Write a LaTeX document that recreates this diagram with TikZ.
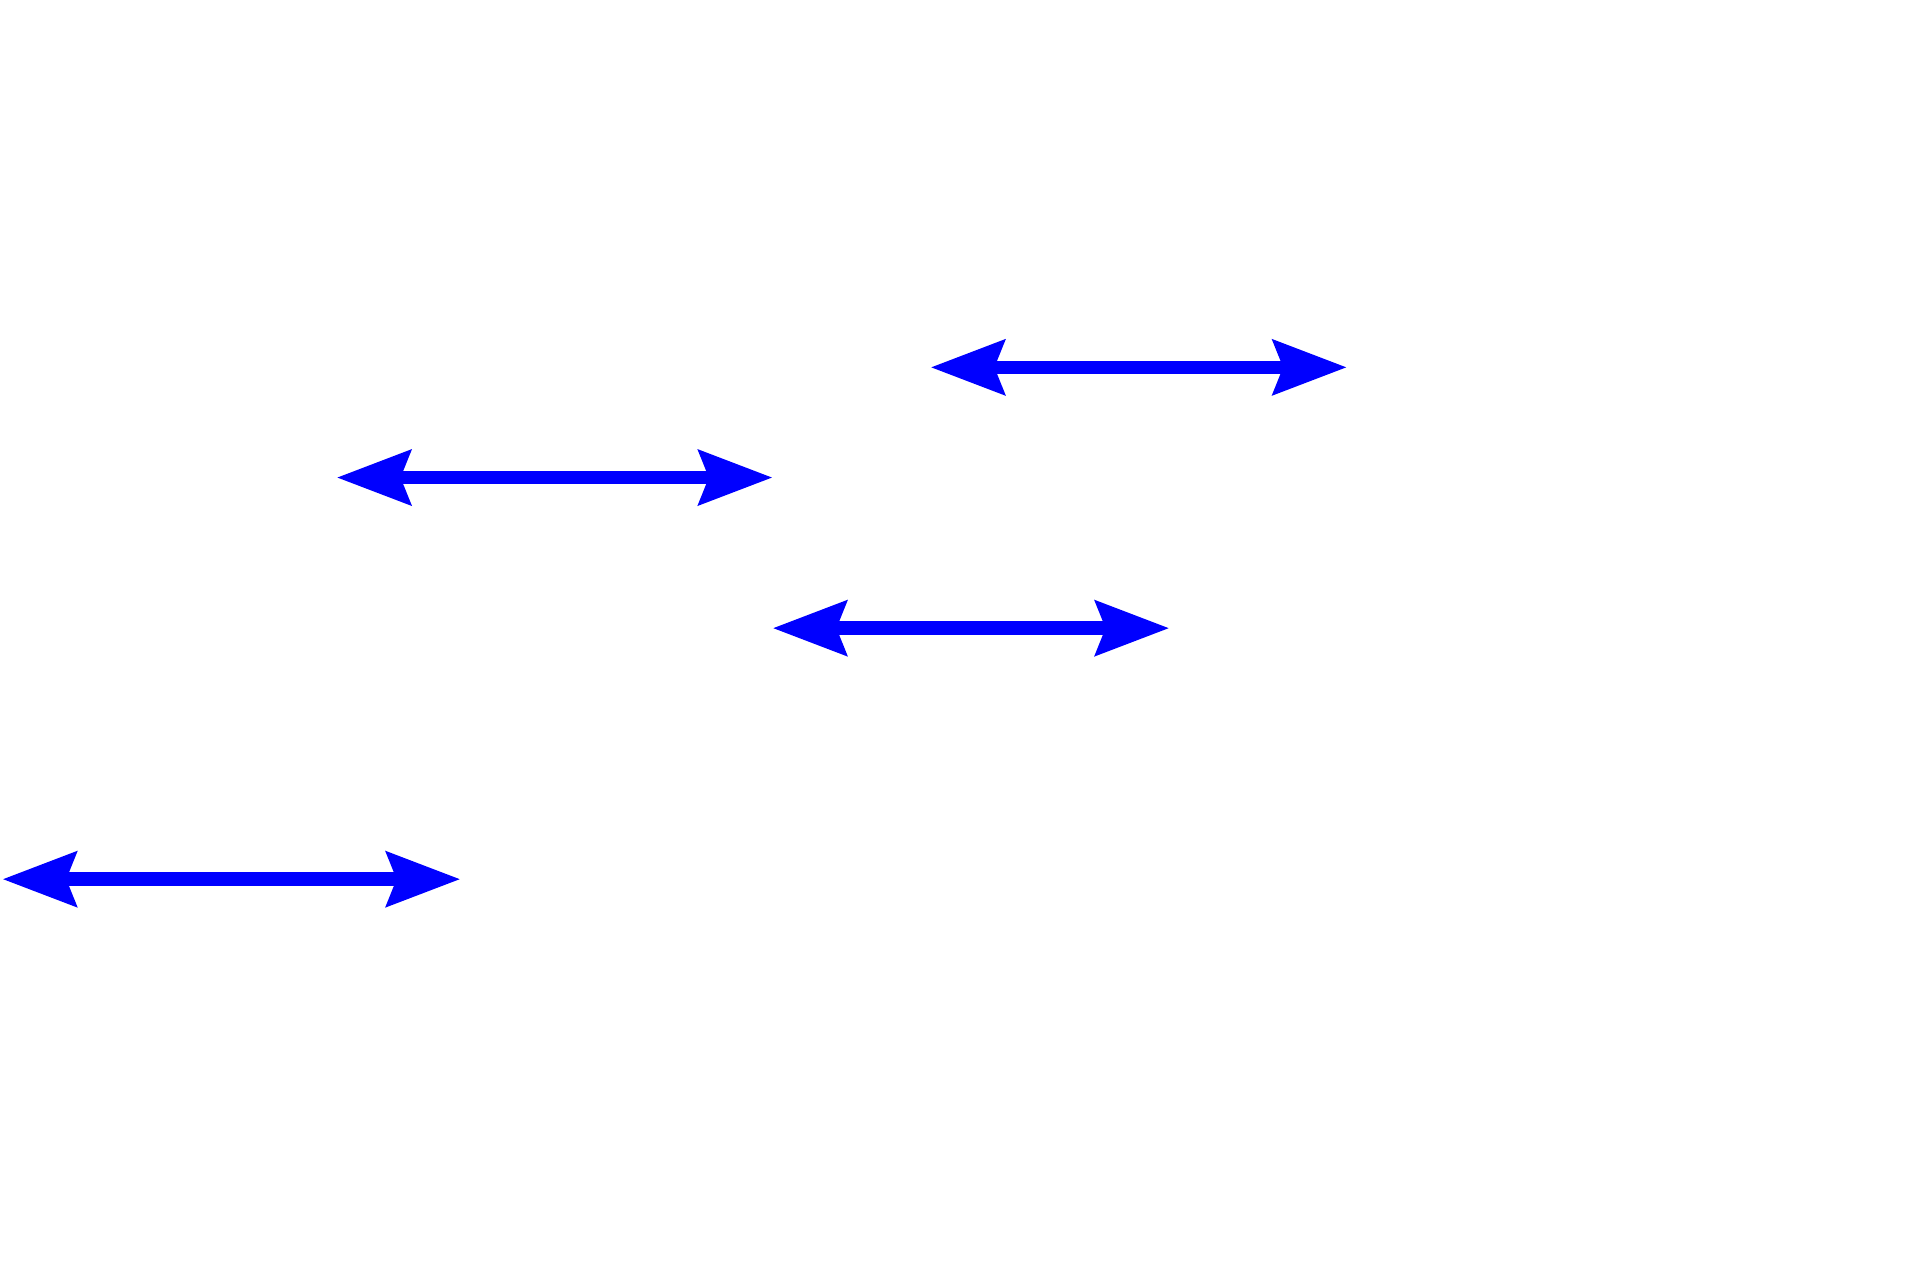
\documentclass[tikz,border=0pt]{standalone}
\usetikzlibrary{arrows.meta}
\begin{document}
\begin{tikzpicture}[x=0.01cm,y=-0.01cm,
  dbl/.style={draw=blue,line width=0.11cm,{Stealth[length=6mm,width=4.4mm,inset=0.8mm]}-{Stealth[length=6mm,width=4.4mm,inset=0.8mm]}}]
\useasboundingbox (0,0) rectangle (1568,1045);
\coordinate (a1) at (760,300); \coordinate (b1) at (1100,300);
\coordinate (a2) at (275,390); \coordinate (b2) at (631,390);
\coordinate (a3) at (631,513); \coordinate (b3) at (955,513);
\coordinate (a4) at (2,718); \coordinate (b4) at (376,718);
\draw[dbl] (a1) -- (b1);
\draw[dbl] (a2) -- (b2);
\draw[dbl] (a3) -- (b3);
\draw[dbl] (a4) -- (b4);
\end{tikzpicture}
\end{document}
